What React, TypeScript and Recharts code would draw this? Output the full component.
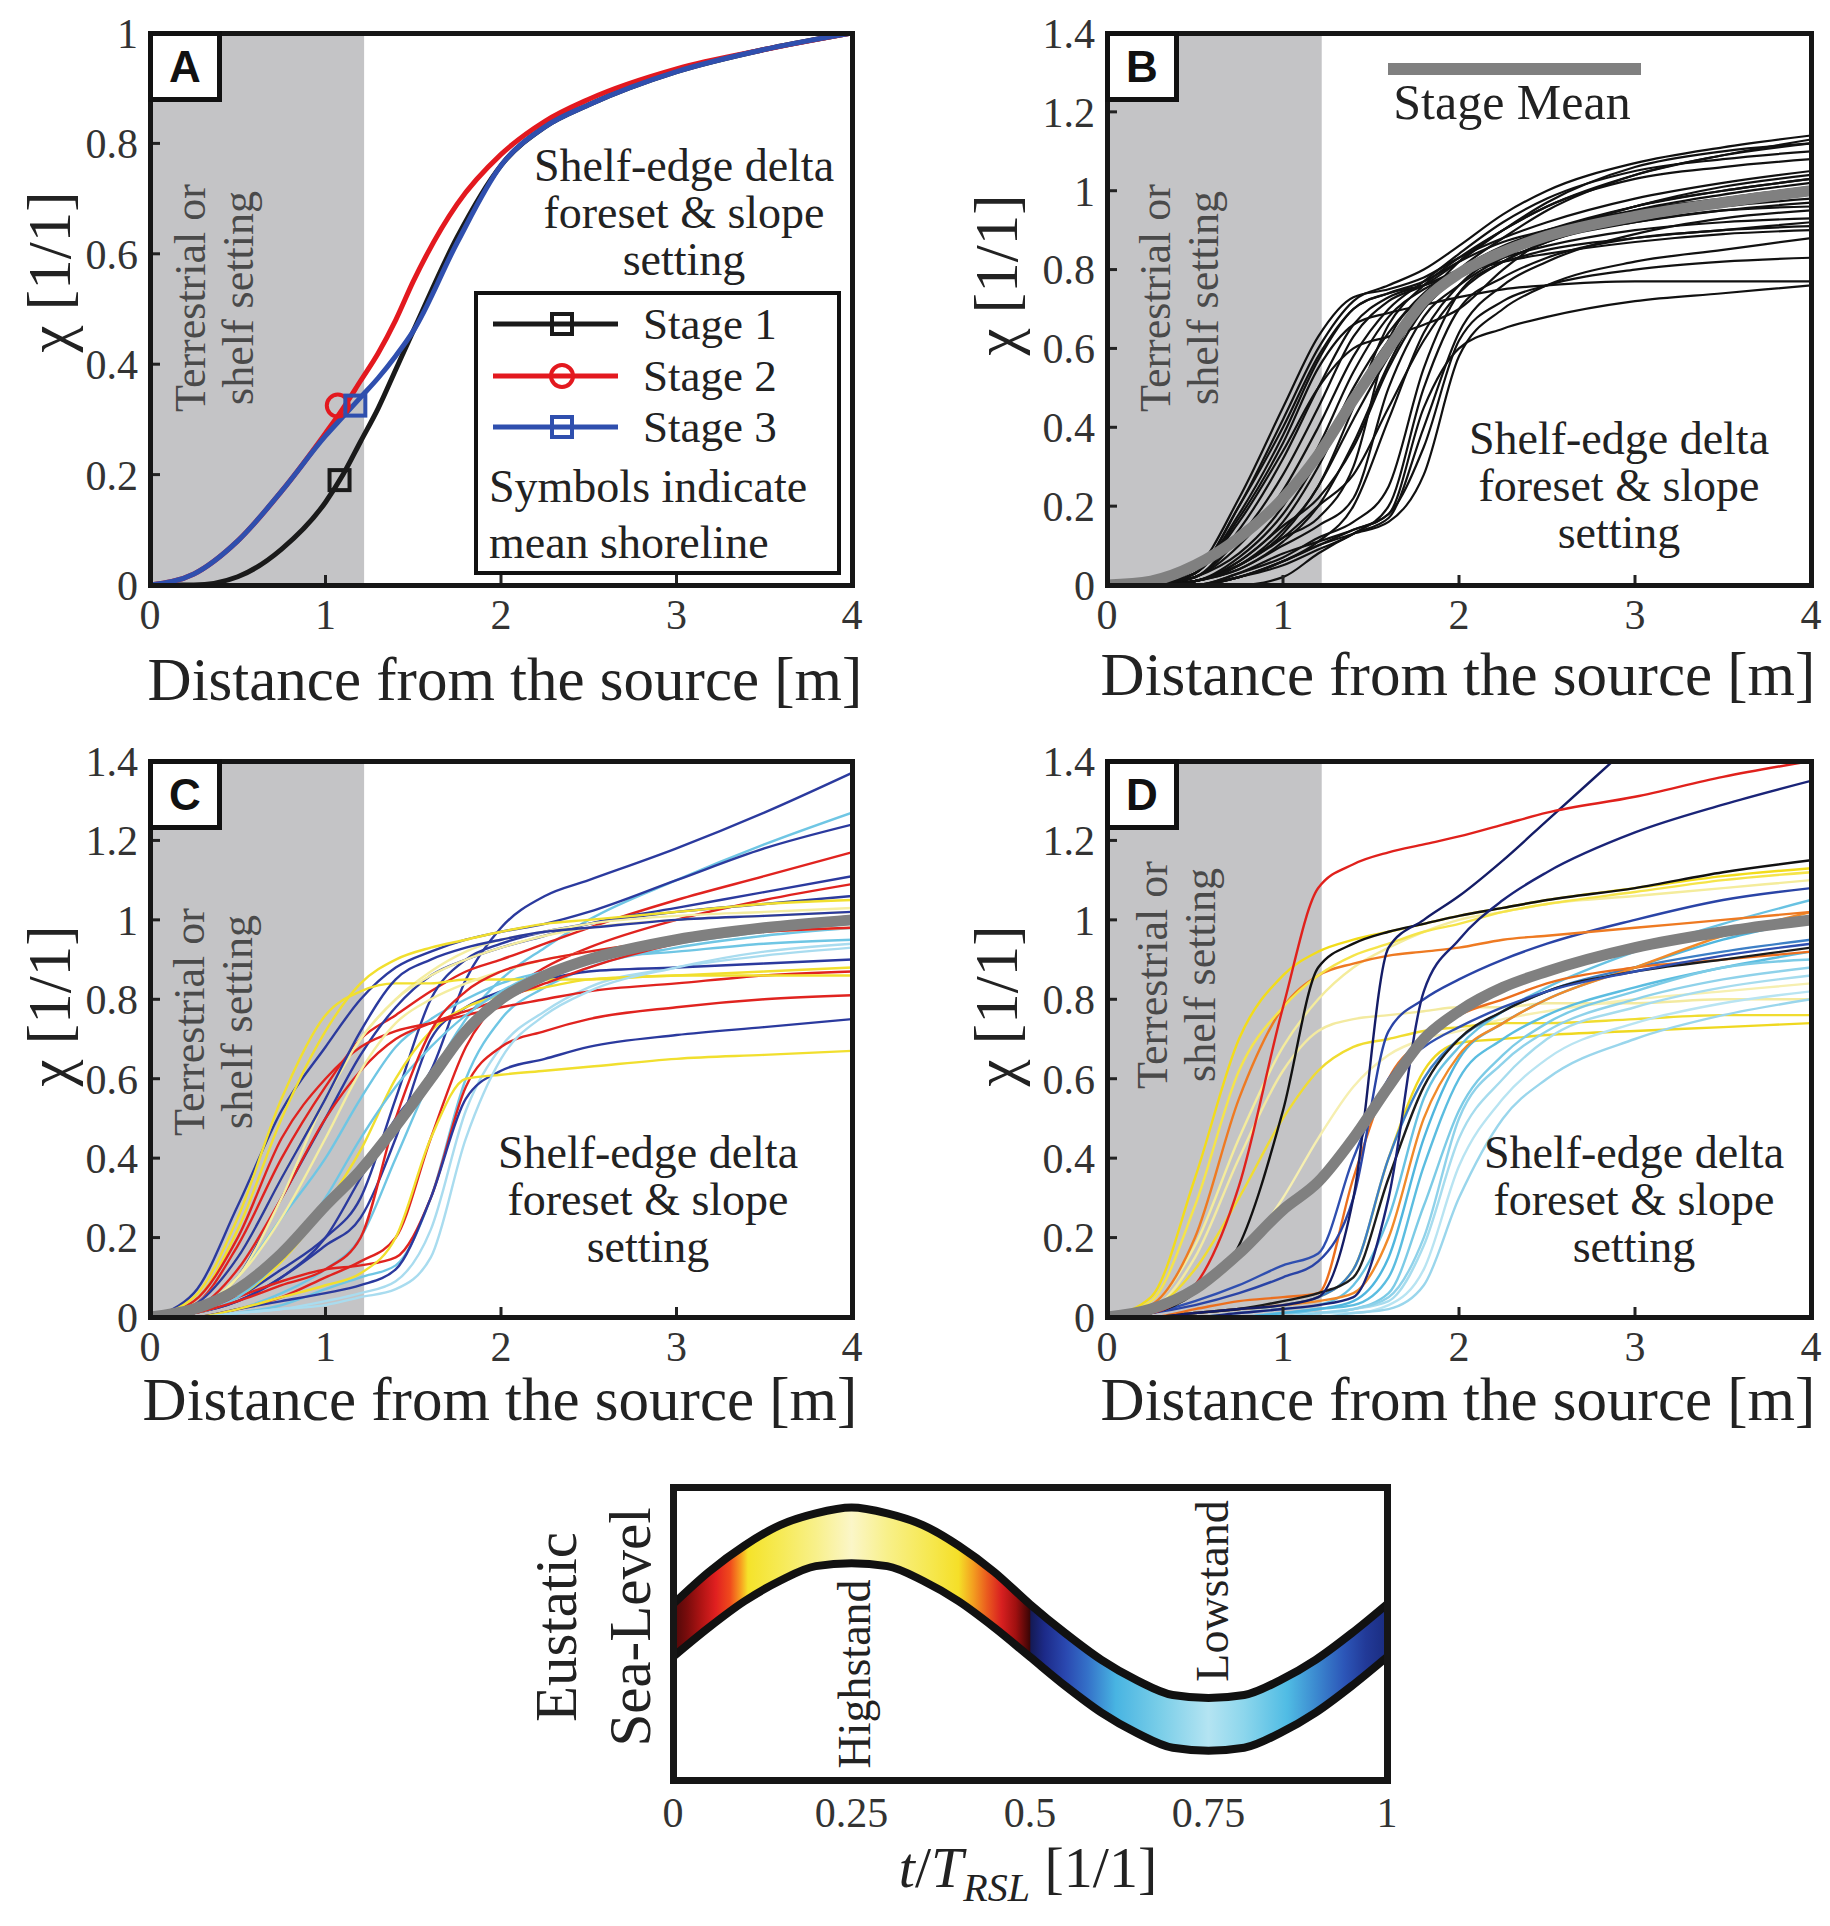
import React from "react";
import { ComposedChart, Line, Area, Scatter, XAxis, YAxis, ReferenceArea } from "recharts";

// ---------- shared axis values ----------
const xTicks = [0, 1, 2, 3, 4];
const yTicksA = [0, 0.2, 0.4, 0.6, 0.8, 1];
const yTicksBCD = [0, 0.2, 0.4, 0.6, 0.8, 1, 1.2, 1.4];
const shelfEdge = 1.22;

// ---------- panel A ----------
const distanceA = [0, 0.25, 0.5, 0.75, 1, 1.1, 1.2, 1.3, 1.4, 1.5, 1.75, 2, 2.25, 2.5, 3, 3.5, 4];
const stage1 = [0, 0, 0.015, 0.065, 0.15, 0.2, 0.26, 0.32, 0.39, 0.46, 0.63, 0.76, 0.83, 0.87, 0.93, 0.97, 1];
const stage2 = [0, 0.02, 0.08, 0.17, 0.275, 0.32, 0.37, 0.42, 0.48, 0.55, 0.69, 0.78, 0.84, 0.88, 0.935, 0.97, 1];
const stage3 = [0, 0.02, 0.08, 0.17, 0.27, 0.305, 0.34, 0.375, 0.415, 0.46, 0.62, 0.76, 0.83, 0.87, 0.93, 0.97, 1];
const stage1Shoreline = [{ x: 1.08, y: 0.19 }];
const stage2Shoreline = [{ x: 1.07, y: 0.325 }];
const stage3Shoreline = [{ x: 1.17, y: 0.325 }];

// ---------- panels B, C, D: common distance grid ----------
const distance = [0, 0.25, 0.5, 0.75, 1, 1.2, 1.4, 1.6, 1.8, 2, 2.25, 2.5, 3, 3.5, 4];

// panel B: stage 1 runs
const b01 = [0, 0, 0.03, 0.2, 0.42, 0.6, 0.72, 0.76, 0.8, 0.86, 0.94, 1.0, 1.07, 1.11, 1.14];
const b02 = [0, 0, 0.04, 0.22, 0.45, 0.63, 0.73, 0.75, 0.78, 0.83, 0.88, 0.92, 0.98, 1.02, 1.05];
const b03 = [0, 0, 0.03, 0.18, 0.38, 0.57, 0.7, 0.74, 0.77, 0.82, 0.87, 0.9, 0.95, 0.98, 1.0];
const b04 = [0, 0, 0.02, 0.14, 0.32, 0.5, 0.66, 0.73, 0.76, 0.8, 0.85, 0.89, 0.94, 0.97, 0.99];
const b05 = [0, 0, 0.03, 0.17, 0.36, 0.55, 0.66, 0.69, 0.71, 0.73, 0.75, 0.76, 0.77, 0.77, 0.77];
const b06 = [0, 0, 0.02, 0.12, 0.28, 0.45, 0.63, 0.72, 0.76, 0.82, 0.9, 0.97, 1.06, 1.1, 1.12];
const b07 = [0, 0, 0.01, 0.07, 0.18, 0.32, 0.5, 0.64, 0.74, 0.8, 0.86, 0.9, 0.96, 1.0, 1.03];
const b08 = [0, 0, 0.01, 0.06, 0.16, 0.3, 0.48, 0.62, 0.72, 0.79, 0.85, 0.89, 0.94, 0.98, 1.01];
const b09 = [0, 0, 0.01, 0.05, 0.13, 0.25, 0.42, 0.58, 0.71, 0.8, 0.88, 0.95, 1.04, 1.09, 1.12];
const b10 = [0, 0, 0.01, 0.06, 0.15, 0.22, 0.35, 0.55, 0.7, 0.78, 0.84, 0.88, 0.92, 0.95, 0.97];
const b11 = [0, 0, 0.01, 0.05, 0.12, 0.17, 0.3, 0.62, 0.73, 0.78, 0.83, 0.86, 0.9, 0.92, 0.93];
const b12 = [0, 0, 0.01, 0.04, 0.1, 0.15, 0.22, 0.5, 0.68, 0.76, 0.83, 0.88, 0.95, 0.99, 1.02];
const b13 = [0, 0, 0, 0.03, 0.08, 0.11, 0.14, 0.18, 0.35, 0.62, 0.72, 0.76, 0.8, 0.82, 0.83];
const b14 = [0, 0, 0, 0.02, 0.06, 0.1, 0.13, 0.16, 0.28, 0.58, 0.7, 0.76, 0.82, 0.85, 0.88];
const b15 = [0, 0, 0, 0.02, 0.06, 0.1, 0.14, 0.18, 0.45, 0.6, 0.65, 0.68, 0.72, 0.74, 0.76];
const b16 = [0, 0, 0, 0.02, 0.05, 0.09, 0.13, 0.2, 0.5, 0.7, 0.78, 0.83, 0.88, 0.9, 0.92];
const b17 = [0, 0, 0, 0.03, 0.07, 0.12, 0.16, 0.25, 0.55, 0.74, 0.82, 0.87, 0.92, 0.95, 0.96];
const b18 = [0, 0, 0, 0, 0.02, 0.08, 0.13, 0.17, 0.4, 0.64, 0.76, 0.82, 0.89, 0.93, 0.95];
const b19 = [0, 0, 0, 0.02, 0.06, 0.11, 0.2, 0.42, 0.64, 0.76, 0.84, 0.89, 0.96, 1.01, 1.04];
const b20 = [0, 0, 0.01, 0.04, 0.11, 0.2, 0.36, 0.56, 0.72, 0.82, 0.9, 0.96, 1.03, 1.06, 1.08];
const b21 = [0, 0, 0.02, 0.1, 0.24, 0.4, 0.58, 0.7, 0.77, 0.84, 0.92, 0.98, 1.05, 1.08, 1.1];
const b22 = [0, 0, 0.03, 0.16, 0.34, 0.5, 0.6, 0.63, 0.66, 0.7, 0.8, 0.88, 0.96, 1.0, 1.03];
const b23 = [0, 0, 0.02, 0.08, 0.2, 0.35, 0.54, 0.68, 0.75, 0.79, 0.82, 0.84, 0.87, 0.89, 0.9];
const b24 = [0, 0, 0.01, 0.05, 0.12, 0.2, 0.28, 0.45, 0.62, 0.74, 0.82, 0.87, 0.93, 0.96, 0.98];
const b25 = [0, 0, 0.03, 0.2, 0.4, 0.58, 0.7, 0.74, 0.76, 0.79, 0.82, 0.85, 0.88, 0.9, 0.91];
const b26 = [0, 0, 0.01, 0.05, 0.14, 0.25, 0.45, 0.66, 0.76, 0.83, 0.9, 0.96, 1.04, 1.09, 1.13];
const meanB = [0, 0.01, 0.05, 0.12, 0.22, 0.33, 0.47, 0.6, 0.72, 0.79, 0.845, 0.885, 0.935, 0.97, 1.0];

// panel C: stage 2 runs
const c01 = [0, 0.01, 0.04, 0.1, 0.2, 0.35, 0.5, 0.62, 0.85, 0.98, 1.06, 1.1, 1.18, 1.27, 1.37];
const c02 = [0, 0, 0.02, 0.06, 0.12, 0.2, 0.4, 0.6, 0.75, 0.85, 0.93, 1.0, 1.1, 1.19, 1.27];
const c03 = [0, 0.06, 0.28, 0.52, 0.68, 0.8, 0.88, 0.92, 0.95, 0.97, 0.99, 1.02, 1.1, 1.18, 1.24];
const c04 = [0, 0.03, 0.18, 0.4, 0.58, 0.7, 0.76, 0.82, 0.87, 0.9, 0.94, 0.98, 1.05, 1.11, 1.17];
const c05 = [0, 0.02, 0.1, 0.3, 0.5, 0.66, 0.78, 0.86, 0.9, 0.93, 0.96, 0.99, 1.03, 1.07, 1.11];
const c06 = [0, 0, 0.02, 0.05, 0.1, 0.14, 0.2, 0.45, 0.68, 0.8, 0.88, 0.93, 1.0, 1.05, 1.09];
const c07 = [0, 0.01, 0.05, 0.12, 0.2, 0.3, 0.55, 0.8, 0.9, 0.94, 0.97, 0.99, 1.02, 1.04, 1.06];
const c08 = [0, 0.04, 0.22, 0.5, 0.72, 0.84, 0.9, 0.93, 0.95, 0.97, 0.99, 1.0, 1.02, 1.04, 1.05];
const c09 = [0, 0.03, 0.15, 0.35, 0.55, 0.7, 0.8, 0.87, 0.92, 0.95, 0.97, 0.99, 1.01, 1.02, 1.03];
const c10 = [0, 0, 0.01, 0.03, 0.07, 0.1, 0.13, 0.3, 0.6, 0.75, 0.83, 0.88, 0.93, 0.96, 0.98];
const c11 = [0, 0.02, 0.1, 0.25, 0.4, 0.55, 0.68, 0.75, 0.8, 0.84, 0.87, 0.9, 0.92, 0.94, 0.95];
const c12 = [0, 0, 0.01, 0.02, 0.04, 0.06, 0.09, 0.22, 0.52, 0.68, 0.77, 0.83, 0.88, 0.91, 0.93];
const c13 = [0, 0.01, 0.04, 0.1, 0.18, 0.25, 0.45, 0.7, 0.78, 0.82, 0.85, 0.87, 0.88, 0.89, 0.9];
const c14 = [0, 0.01, 0.05, 0.14, 0.28, 0.42, 0.6, 0.72, 0.78, 0.81, 0.83, 0.85, 0.86, 0.87, 0.88];
const c15 = [0, 0.04, 0.2, 0.45, 0.6, 0.68, 0.72, 0.74, 0.76, 0.78, 0.8, 0.82, 0.84, 0.86, 0.87];
const c16 = [0, 0.05, 0.25, 0.55, 0.76, 0.82, 0.84, 0.84, 0.85, 0.85, 0.85, 0.85, 0.86, 0.86, 0.86];
const c17 = [0, 0.01, 0.05, 0.09, 0.12, 0.13, 0.15, 0.3, 0.58, 0.68, 0.72, 0.75, 0.78, 0.8, 0.81];
const c18 = [0, 0, 0.02, 0.04, 0.06, 0.08, 0.12, 0.3, 0.55, 0.62, 0.65, 0.68, 0.71, 0.73, 0.75];
const c19 = [0, 0, 0.02, 0.05, 0.08, 0.11, 0.2, 0.45, 0.6, 0.61, 0.62, 0.63, 0.65, 0.66, 0.67];
const c20 = [0, 0.02, 0.12, 0.3, 0.5, 0.62, 0.7, 0.74, 0.77, 0.8, 0.84, 0.88, 0.94, 0.98, 1.01];
const c21 = [0, 0.02, 0.1, 0.25, 0.45, 0.62, 0.74, 0.8, 0.84, 0.87, 0.9, 0.92, 0.95, 0.97, 0.98];
const c22 = [0, 0.01, 0.05, 0.15, 0.3, 0.45, 0.58, 0.68, 0.76, 0.82, 0.87, 0.9, 0.94, 0.97, 0.99];
const c23 = [0, 0.01, 0.04, 0.08, 0.12, 0.2, 0.5, 0.72, 0.82, 0.87, 0.9, 0.92, 0.95, 0.97, 0.98];
const c24 = [0, 0, 0.01, 0.02, 0.03, 0.05, 0.07, 0.15, 0.45, 0.65, 0.76, 0.82, 0.88, 0.92, 0.94];
const c25 = [0, 0.02, 0.1, 0.3, 0.55, 0.7, 0.8, 0.86, 0.9, 0.93, 0.96, 0.98, 1.0, 1.01, 1.02];
const c26 = [0, 0.03, 0.15, 0.35, 0.55, 0.72, 0.85, 0.9, 0.93, 0.95, 0.97, 0.98, 1.0, 1.01, 1.02];
const meanC = [0, 0.02, 0.07, 0.16, 0.28, 0.37, 0.48, 0.6, 0.72, 0.8, 0.86, 0.9, 0.95, 0.98, 1.0];

// panel D: stage 3 runs
const d01 = [0, 0.01, 0.08, 0.33, 0.78, 1.08, 1.14, 1.17, 1.19, 1.21, 1.24, 1.27, 1.31, 1.36, 1.4];
const d02 = [0, 0, 0.01, 0.02, 0.03, 0.05, 0.3, 0.93, 1.0, 1.06, 1.15, 1.25, 1.45, 1.65, 1.85];
const d03 = [0, 0, 0, 0.01, 0.02, 0.03, 0.05, 0.3, 0.82, 0.95, 1.05, 1.12, 1.22, 1.29, 1.35];
const d04 = [0, 0.01, 0.06, 0.18, 0.52, 0.88, 0.94, 0.97, 0.99, 1.01, 1.03, 1.05, 1.08, 1.12, 1.15];
const d05 = [0, 0.05, 0.35, 0.7, 0.86, 0.92, 0.95, 0.97, 0.99, 1.01, 1.03, 1.05, 1.08, 1.11, 1.13];
const d06 = [0, 0.03, 0.2, 0.55, 0.78, 0.86, 0.89, 0.91, 0.92, 0.93, 0.95, 0.96, 0.98, 1.0, 1.02];
const d07 = [0, 0.03, 0.18, 0.45, 0.68, 0.8, 0.88, 0.93, 0.97, 1.0, 1.02, 1.04, 1.06, 1.08, 1.1];
const d08 = [0, 0.04, 0.28, 0.62, 0.78, 0.86, 0.91, 0.94, 0.97, 0.99, 1.02, 1.04, 1.07, 1.1, 1.12];
const d09 = [0, 0.02, 0.15, 0.4, 0.62, 0.72, 0.75, 0.76, 0.77, 0.78, 0.78, 0.79, 0.79, 0.8, 0.8];
const d10 = [0, 0.01, 0.03, 0.06, 0.1, 0.14, 0.3, 0.72, 0.8, 0.85, 0.9, 0.94, 1.0, 1.05, 1.08];
const d11 = [0, 0.01, 0.04, 0.08, 0.13, 0.16, 0.4, 0.6, 0.68, 0.73, 0.78, 0.82, 0.87, 0.91, 0.94];
const d12 = [0, 0, 0.01, 0.02, 0.04, 0.06, 0.1, 0.35, 0.58, 0.7, 0.77, 0.82, 0.87, 0.9, 0.93];
const d13 = [0, 0, 0, 0, 0.01, 0.02, 0.03, 0.1, 0.38, 0.6, 0.7, 0.76, 0.83, 0.88, 0.92];
const d14 = [0, 0, 0, 0, 0.01, 0.01, 0.02, 0.06, 0.28, 0.52, 0.66, 0.74, 0.82, 0.88, 0.9];
const d15 = [0, 0, 0, 0, 0, 0.01, 0.02, 0.04, 0.18, 0.45, 0.6, 0.7, 0.78, 0.83, 0.86];
const d16 = [0, 0, 0, 0, 0, 0.01, 0.01, 0.03, 0.12, 0.38, 0.55, 0.65, 0.74, 0.79, 0.82];
const d17 = [0, 0, 0, 0, 0, 0, 0.01, 0.02, 0.08, 0.3, 0.5, 0.6, 0.7, 0.76, 0.8];
const d18 = [0, 0, 0, 0, 0.01, 0.02, 0.04, 0.15, 0.45, 0.65, 0.74, 0.8, 0.88, 0.95, 1.0];
const d19 = [0, 0, 0, 0.01, 0.02, 0.03, 0.08, 0.25, 0.55, 0.68, 0.77, 0.83, 0.92, 0.99, 1.05];
const d20 = [0, 0, 0.01, 0.02, 0.03, 0.05, 0.12, 0.4, 0.6, 0.7, 0.77, 0.82, 0.88, 0.92, 0.95];
const d21 = [0, 0, 0.01, 0.02, 0.03, 0.05, 0.12, 0.4, 0.62, 0.69, 0.7, 0.71, 0.72, 0.73, 0.74];
const d22 = [0, 0, 0.02, 0.04, 0.05, 0.06, 0.35, 0.6, 0.7, 0.76, 0.8, 0.84, 0.88, 0.9, 0.92];
const d23 = [0, 0.01, 0.06, 0.15, 0.3, 0.45, 0.58, 0.66, 0.7, 0.72, 0.75, 0.77, 0.8, 0.82, 0.84];
const d24 = [0, 0, 0, 0, 0, 0.01, 0.02, 0.05, 0.2, 0.5, 0.64, 0.72, 0.8, 0.85, 0.88];
const d25 = [0, 0.02, 0.12, 0.3, 0.5, 0.62, 0.68, 0.7, 0.72, 0.73, 0.74, 0.74, 0.75, 0.76, 0.76];
const d26 = [0, 0, 0.01, 0.02, 0.03, 0.04, 0.06, 0.2, 0.5, 0.66, 0.74, 0.8, 0.88, 0.96, 1.02];
const meanD = [0, 0.02, 0.07, 0.16, 0.27, 0.34, 0.45, 0.58, 0.7, 0.77, 0.83, 0.87, 0.93, 0.97, 1.0];

// ---------- bottom panel: eustatic sea level ----------
const phase = [0, 0.05, 0.1, 0.15, 0.2, 0.25, 0.3, 0.35, 0.4, 0.45, 0.5, 0.55, 0.6, 0.65, 0.7, 0.75, 0.8, 0.85, 0.9, 0.95, 1];
const seaUpper = [0.6, 0.71, 0.8, 0.87, 0.91, 0.93, 0.91, 0.87, 0.8, 0.71, 0.6, 0.5, 0.41, 0.34, 0.29, 0.28, 0.29, 0.34, 0.41, 0.5, 0.6];
const seaLower = [0.42, 0.52, 0.61, 0.68, 0.73, 0.74, 0.73, 0.68, 0.61, 0.52, 0.42, 0.32, 0.23, 0.16, 0.11, 0.1, 0.11, 0.16, 0.23, 0.32, 0.42];
const phaseTicks = [0, 0.25, 0.5, 0.75, 1];

// ---------- colours ----------
const NAVY = "#2b3a9e";
const RED = "#e0231f";
const YEL = "#f1df2e";
const PYEL = "#f4eda0";
const LBLUE = "#6fc6e4";
const PBLUE = "#a9dcef";

const curvesB = [b01, b02, b03, b04, b05, b06, b07, b08, b09, b10, b11, b12, b13, b14, b15, b16, b17, b18, b19, b20, b21, b22, b23, b24, b25, b26];
const curvesC: [number[], string][] = [
  [c01, NAVY], [c02, LBLUE], [c03, NAVY], [c04, RED], [c05, NAVY], [c06, RED], [c07, NAVY],
  [c08, YEL], [c09, PYEL], [c10, LBLUE], [c11, LBLUE], [c12, PBLUE], [c13, NAVY], [c14, YEL],
  [c15, RED], [c16, YEL], [c17, RED], [c18, NAVY], [c19, YEL], [c20, RED], [c21, PYEL],
  [c22, LBLUE], [c23, RED], [c24, PBLUE], [c25, PYEL], [c26, NAVY],
];
const curvesD: [number[], string][] = [
  [d09, "#f3eaa0"], [d23, "#f6efb0"], [d07, "#f4ec9c"], [d25, "#f0dc30"], [d21, "#efd820"],
  [d13, "#5bbde0"], [d14, "#7ccbe6"], [d15, "#a6dcee"], [d16, "#b8e4f2"], [d17, "#9ad6ec"],
  [d18, "#4fb6de"], [d19, "#68c2e2"], [d24, "#8fd2ea"], [d20, "#3d7fc6"], [d22, "#ec6f1e"],
  [d26, "#f08a2a"], [d12, "#1c1c1c"], [d11, "#2f4fb0"], [d10, "#2a44a6"], [d06, "#ee7a22"],
  [d08, "#f5e44a"], [d05, "#f2dc1a"], [d04, "#111111"], [d03, "#1a2478"], [d02, "#141c66"],
  [d01, "#e0211c"],
];

const SERIF = '"Liberation Serif", "Times New Roman", serif';
const SANS = '"Liberation Sans", Arial, sans-serif';

type Box = { x: number; y: number; w: number; h: number };
const boxA: Box = { x: 150, y: 33, w: 702, h: 552 };
const boxB: Box = { x: 1107, y: 33, w: 704, h: 552 };
const boxC: Box = { x: 150, y: 761, w: 702, h: 556 };
const boxD: Box = { x: 1107, y: 761, w: 704, h: 556 };
const boxE: Box = { x: 673, y: 1487, w: 714, h: 293 };

function buildRows(xs: number[], cols: number[][]) {
  return xs.map((x, i) => {
    const row: Record<string, number> = { x };
    cols.forEach((c, k) => (row["s" + k] = c[i]));
    return row;
  });
}

const tickText = { fill: "#333", fontSize: 42, fontFamily: SERIF };
const tickLine = { stroke: "#222", strokeWidth: 3 };

function Txt(props: {
  x: number; y: number; size: number; rotate?: boolean; color?: string;
  family?: string; weight?: number; lh?: number; children: React.ReactNode;
}) {
  const { x, y, size, rotate, color = "#222", family = SERIF, weight = 400, lh = 1.1 } = props;
  return (
    <div
      style={{
        position: "absolute", left: x, top: y, fontSize: size, fontFamily: family, fontWeight: weight,
        color, lineHeight: lh, whiteSpace: "nowrap", textAlign: "center", zIndex: 5,
        transform: `translate(-50%, -50%)${rotate ? " rotate(-90deg)" : ""}`,
      }}
    >
      {props.children}
    </div>
  );
}

function Frame({ box, t = 5 }: { box: Box; t?: number }) {
  return (
    <div
      style={{
        position: "absolute", left: box.x - t / 2, top: box.y - t / 2, width: box.w + t, height: box.h + t,
        border: `${t}px solid #161616`, boxSizing: "border-box", zIndex: 4, pointerEvents: "none",
      }}
    />
  );
}

function Letter({ box, label }: { box: Box; label: string }) {
  return (
    <div
      style={{
        position: "absolute", left: box.x - 2, top: box.y - 2, width: 74, height: 71,
        border: "5px solid #111", boxSizing: "border-box", background: "#fff", zIndex: 6,
        display: "flex", alignItems: "center", justifyContent: "center",
        fontFamily: SANS, fontWeight: 700, fontSize: 44, color: "#111",
      }}
    >
      {label}
    </div>
  );
}

function DistancePanel(props: {
  box: Box; yMax: number; yTicks: number[]; xs: number[]; cols: number[][]; colors: string[];
  widths: number; meanIdx?: number; children?: React.ReactNode;
}) {
  const { box, yMax, yTicks, xs, cols, colors, widths, meanIdx } = props;
  const rows = buildRows(xs, cols);
  return (
    <div style={{ position: "absolute", left: box.x - 100, top: box.y - 40, zIndex: 2 }}>
      <ComposedChart width={box.w + 130} height={box.h + 130} data={rows}
        margin={{ top: 40, right: 30, bottom: 40, left: 40 }}>
        <XAxis dataKey="x" type="number" domain={[0, 4]} ticks={xTicks} interval={0} allowDataOverflow
          height={50} axisLine={false} tickSize={-10} tickMargin={24} tickLine={tickLine} tick={tickText} />
        <YAxis type="number" domain={[0, yMax]} ticks={yTicks} interval={0} allowDataOverflow
          width={60} axisLine={false} tickSize={-10} tickMargin={22} tickLine={tickLine} tick={tickText} />
        <ReferenceArea x1={0} x2={shelfEdge} y1={0} y2={yMax} fill="#c4c4c6" fillOpacity={1} stroke="none" />
        {cols.map((_, k) =>
          k === meanIdx ? null : (
            <Line key={k} dataKey={"s" + k} type="monotone" stroke={colors[k]} strokeWidth={widths}
              dot={false} isAnimationActive={false} />
          )
        )}
        {meanIdx !== undefined && (
          <Line dataKey={"s" + meanIdx} type="monotone" stroke="#808080" strokeWidth={11}
            dot={false} isAnimationActive={false} />
        )}
        {props.children}
      </ComposedChart>
    </div>
  );
}

const squareShape = (color: string) => (p: any) => (
  <rect x={p.cx - 10} y={p.cy - 10} width={20} height={20} fill="none" stroke={color} strokeWidth={4} />
);
const circleShape = (color: string) => (p: any) => (
  <circle cx={p.cx} cy={p.cy} r={11} fill="none" stroke={color} strokeWidth={4} />
);

const stageLegend = [
  { name: "Stage 1", color: "#1a1a1a", marker: "square" },
  { name: "Stage 2", color: "#e3191f", marker: "circle" },
  { name: "Stage 3", color: "#2f4fae", marker: "square" },
];

function TerrestrialLabel({ x, y }: { x: number; y: number }) {
  return (
    <Txt x={x} y={y} size={44} rotate color="#4a4a4a" lh={1.1}>
      Terrestrial or<br />shelf setting
    </Txt>
  );
}
function ShelfLabel({ x, y }: { x: number; y: number }) {
  return (
    <Txt x={x} y={y} size={46} color="#222" lh={1.02}>
      Shelf-edge delta<br />foreset &amp; slope<br />setting
    </Txt>
  );
}

export default function App() {
  const meanColsB = [...curvesB, meanB];
  const meanColsC = [...curvesC.map((c) => c[0]), meanC];
  const meanColsD = [...curvesD.map((c) => c[0]), meanD];
  const seaRows = phase.map((t, i) => ({ t, upper: seaUpper[i], lower: seaLower[i], band: [seaLower[i], seaUpper[i]] }));

  return (
    <div style={{ position: "absolute", left: 0, top: 0, width: 1830, height: 1926, background: "#fff", overflow: "hidden" }}>
      {/* ---------- A ---------- */}
      <DistancePanel box={boxA} yMax={1} yTicks={yTicksA} xs={distanceA} cols={[stage1, stage2, stage3]}
        colors={["#1a1a1a", "#e3191f", "#2f4fae"]} widths={5}>
        <Scatter data={stage1Shoreline} dataKey="y" shape={squareShape("#1a1a1a")} isAnimationActive={false} />
        <Scatter data={stage2Shoreline} dataKey="y" shape={circleShape("#e3191f")} isAnimationActive={false} />
        <Scatter data={stage3Shoreline} dataKey="y" shape={squareShape("#2f4fae")} isAnimationActive={false} />
      </DistancePanel>
      <Frame box={boxA} />
      <Letter box={boxA} label="A" />
      <TerrestrialLabel x={215} y={298} />
      <ShelfLabel x={684} y={213} />
      <div style={{ position: "absolute", left: 474, top: 291, width: 367, height: 284, border: "4px solid #111",
        boxSizing: "border-box", background: "#fff", zIndex: 6 }}>
        {stageLegend.map((s, i) => {
          const cy = [29, 81, 132][i];
          return (
            <React.Fragment key={s.name}>
              <svg style={{ position: "absolute", left: 15, top: cy - 16 }} width={125} height={32}>
                <line x1={0} x2={125} y1={16} y2={16} stroke={s.color} strokeWidth={5} />
                {s.marker === "square" ? (
                  <rect x={59} y={6} width={20} height={20} fill="none" stroke={s.color} strokeWidth={4} />
                ) : (
                  <circle cx={69} cy={16} r={11} fill="none" stroke={s.color} strokeWidth={4} />
                )}
              </svg>
              <div style={{ position: "absolute", left: 165, top: cy, transform: "translateY(-50%)",
                fontFamily: SERIF, fontSize: 45, color: "#222", whiteSpace: "nowrap", lineHeight: 1 }}>
                {s.name}
              </div>
            </React.Fragment>
          );
        })}
        <div style={{ position: "absolute", left: 11, top: 164, fontFamily: SERIF, fontSize: 46, color: "#222",
          whiteSpace: "nowrap", lineHeight: "56px" }}>
          Symbols indicate<br />mean shoreline
        </div>
      </div>
      <Txt x={505} y={680} size={61}>Distance from the source [m]</Txt>
      <Txt x={50} y={272} size={61} rotate>χ [1/1]</Txt>

      {/* ---------- B ---------- */}
      <DistancePanel box={boxB} yMax={1.4} yTicks={yTicksBCD} xs={distance} cols={meanColsB}
        colors={meanColsB.map(() => "#111")} widths={2.2} meanIdx={meanColsB.length - 1} />
      <Frame box={boxB} />
      <Letter box={boxB} label="B" />
      <TerrestrialLabel x={1180} y={298} />
      <ShelfLabel x={1619} y={486} />
      <div style={{ position: "absolute", left: 1388, top: 63, width: 253, height: 12, background: "#808080", zIndex: 5 }} />
      <Txt x={1512} y={102} size={50}>Stage Mean</Txt>
      <Txt x={1458} y={675} size={61}>Distance from the source [m]</Txt>
      <Txt x={997} y={275} size={61} rotate>χ [1/1]</Txt>

      {/* ---------- C ---------- */}
      <DistancePanel box={boxC} yMax={1.4} yTicks={yTicksBCD} xs={distance} cols={meanColsC}
        colors={[...curvesC.map((c) => c[1]), "#808080"]} widths={2.4} meanIdx={meanColsC.length - 1} />
      <Frame box={boxC} />
      <Letter box={boxC} label="C" />
      <TerrestrialLabel x={214} y={1022} />
      <ShelfLabel x={648} y={1200} />
      <Txt x={500} y={1400} size={61}>Distance from the source [m]</Txt>
      <Txt x={50} y={1006} size={61} rotate>χ [1/1]</Txt>

      {/* ---------- D ---------- */}
      <DistancePanel box={boxD} yMax={1.4} yTicks={yTicksBCD} xs={distance} cols={meanColsD}
        colors={[...curvesD.map((c) => c[1]), "#808080"]} widths={2.4} meanIdx={meanColsD.length - 1} />
      <Frame box={boxD} />
      <Letter box={boxD} label="D" />
      <TerrestrialLabel x={1177} y={975} />
      <ShelfLabel x={1634} y={1200} />
      <Txt x={1458} y={1400} size={61}>Distance from the source [m]</Txt>
      <Txt x={997} y={1006} size={61} rotate>χ [1/1]</Txt>

      {/* ---------- E: eustatic sea level ---------- */}
      <div style={{ position: "absolute", left: boxE.x - 100, top: boxE.y - 20, zIndex: 2 }}>
        <ComposedChart width={boxE.w + 130} height={boxE.h + 110} data={seaRows}
          margin={{ top: 20, right: 30, bottom: 40, left: 40 }}>
          <defs>
            <linearGradient id="seaGrad" x1="0" y1="0" x2="1" y2="0">
              <stop offset="0" stopColor="#4a0808" />
              <stop offset="0.02" stopColor="#7a0c0c" />
              <stop offset="0.04" stopColor="#b01414" />
              <stop offset="0.06" stopColor="#e02020" />
              <stop offset="0.08" stopColor="#f04a1c" />
              <stop offset="0.095" stopColor="#f7a020" />
              <stop offset="0.105" stopColor="#f5e32a" />
              <stop offset="0.15" stopColor="#f6ea55" />
              <stop offset="0.2" stopColor="#f8f08a" />
              <stop offset="0.25" stopColor="#fbf6c8" />
              <stop offset="0.3" stopColor="#f8f08a" />
              <stop offset="0.36" stopColor="#f6e850" />
              <stop offset="0.4" stopColor="#f5df28" />
              <stop offset="0.42" stopColor="#f3a020" />
              <stop offset="0.44" stopColor="#ea5a1e" />
              <stop offset="0.46" stopColor="#d82020" />
              <stop offset="0.48" stopColor="#a01010" />
              <stop offset="0.5" stopColor="#3a0505" />
              <stop offset="0.501" stopColor="#141a55" />
              <stop offset="0.52" stopColor="#1c2a88" />
              <stop offset="0.55" stopColor="#2a48b0" />
              <stop offset="0.58" stopColor="#3470c8" />
              <stop offset="0.62" stopColor="#48b4e2" />
              <stop offset="0.68" stopColor="#78cde8" />
              <stop offset="0.75" stopColor="#b4e4f2" />
              <stop offset="0.8" stopColor="#8cd6ec" />
              <stop offset="0.86" stopColor="#50bce4" />
              <stop offset="0.9" stopColor="#3c8ad0" />
              <stop offset="0.94" stopColor="#2c56b8" />
              <stop offset="0.97" stopColor="#223a98" />
              <stop offset="1" stopColor="#1a2c80" />
            </linearGradient>
          </defs>
          <XAxis dataKey="t" type="number" domain={[0, 1]} ticks={phaseTicks} interval={0} height={50}
            axisLine={false} tickLine={false} tickSize={0} tickMargin={17} tick={tickText} />
          <YAxis type="number" domain={[0, 1]} width={60} axisLine={false} tick={false} tickLine={false} />
          <Area dataKey="band" type="monotone" fill="url(#seaGrad)" fillOpacity={1} stroke="none" isAnimationActive={false} />
          <Line dataKey="upper" type="monotone" stroke="#111" strokeWidth={8} dot={false} isAnimationActive={false} />
          <Line dataKey="lower" type="monotone" stroke="#111" strokeWidth={8} dot={false} isAnimationActive={false} />
        </ComposedChart>
      </div>
      <Frame box={boxE} t={7} />
      <Txt x={855} y={1674} size={46} rotate>Highstand</Txt>
      <Txt x={1213} y={1591} size={46} rotate>Lowstand</Txt>
      <Txt x={594} y={1627} size={59} rotate lh={1.25}>Eustatic<br />Sea-Level</Txt>
      <Txt x={1028} y={1873} size={58}>
        <i>t</i>/<i>T</i><sub style={{ fontSize: 40, fontStyle: "italic", verticalAlign: "-0.35em" }}>RSL</sub> [1/1]
      </Txt>
    </div>
  );
}
